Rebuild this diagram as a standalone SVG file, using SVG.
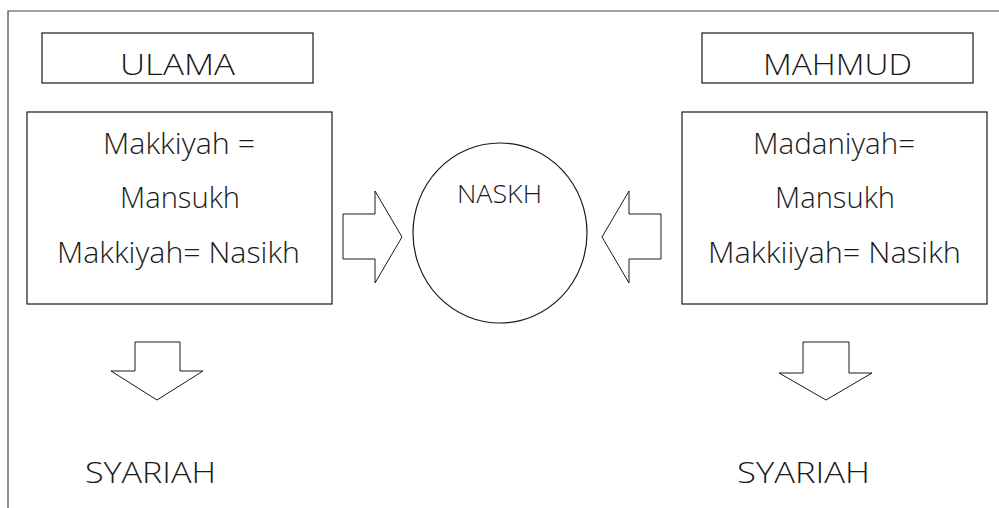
<svg xmlns="http://www.w3.org/2000/svg" width="999" height="508" viewBox="0 0 999 508">
<style>
.box{fill:#fff;stroke:#1a1a1a;stroke-width:1.2}
.arr{fill:#fff;stroke:#1a1a1a;stroke-width:1}
.frame{fill:none;stroke:#444;stroke-width:1.2}
text{font-family:"Open Sans","Liberation Sans",sans-serif;font-weight:300;fill:#1a1a1a;text-anchor:middle}
.t30{font-size:30px}
.t25{font-size:25px}
</style>
<rect width="999" height="508" fill="#fff"/>
<path class="frame" d="M8,508 V11 H999"/>
<g id="ulama">
<rect class="box" x="42" y="33" width="271" height="50"/>
<text class="t30" x="177.5" y="75" textLength="115" lengthAdjust="spacingAndGlyphs">ULAMA</text>
</g>
<g id="mahmud">
<rect class="box" x="702" y="33" width="271" height="50"/>
<text class="t30" x="837.5" y="75" textLength="149" lengthAdjust="spacingAndGlyphs">MAHMUD</text>
</g>
<g id="ulama-view">
<rect class="box" x="27" y="112" width="305" height="192"/>
<text class="t30" x="179" y="154" textLength="152" lengthAdjust="spacingAndGlyphs">Makkiyah =</text>
<text class="t30" x="180" y="208" textLength="120" lengthAdjust="spacingAndGlyphs">Mansukh</text>
<text class="t30" x="178.5" y="263" textLength="243" lengthAdjust="spacingAndGlyphs">Makkiyah= Nasikh</text>
</g>
<g id="mahmud-view">
<rect class="box" x="682" y="112" width="305" height="192"/>
<text class="t30" x="834" y="154" textLength="162" lengthAdjust="spacingAndGlyphs">Madaniyah=</text>
<text class="t30" x="835" y="208" textLength="120" lengthAdjust="spacingAndGlyphs">Mansukh</text>
<text class="t30" x="834.5" y="263" textLength="253" lengthAdjust="spacingAndGlyphs">Makkiiyah= Nasikh</text>
</g>
<g id="naskh">
<ellipse class="box" cx="500" cy="233" rx="87" ry="90"/>
<text class="t25" x="499.5" y="203" textLength="85" lengthAdjust="spacingAndGlyphs">NASKH</text>
</g>
<g id="syariah-left">
<text class="t30" x="150.5" y="483" textLength="131" lengthAdjust="spacingAndGlyphs">SYARIAH</text>
</g>
<g id="syariah-right">
<text class="t30" x="803.5" y="483" textLength="133" lengthAdjust="spacingAndGlyphs">SYARIAH</text>
</g>
<g id="connectors">
<polygon class="arr" points="343,214 375,214 375,191 402,237 375,283 375,259 343,259"/>
<polygon class="arr" points="661,214 629,214 629,191 602,237 629,283 629,259 661,259"/>
<polygon class="arr" points="135,342 180,342 180,371 203,371 157,400 111,371 135,371"/>
<polygon class="arr" points="803,342 849,342 849,373 872,373 826,400 779,373 803,373"/>
</g>
</svg>
